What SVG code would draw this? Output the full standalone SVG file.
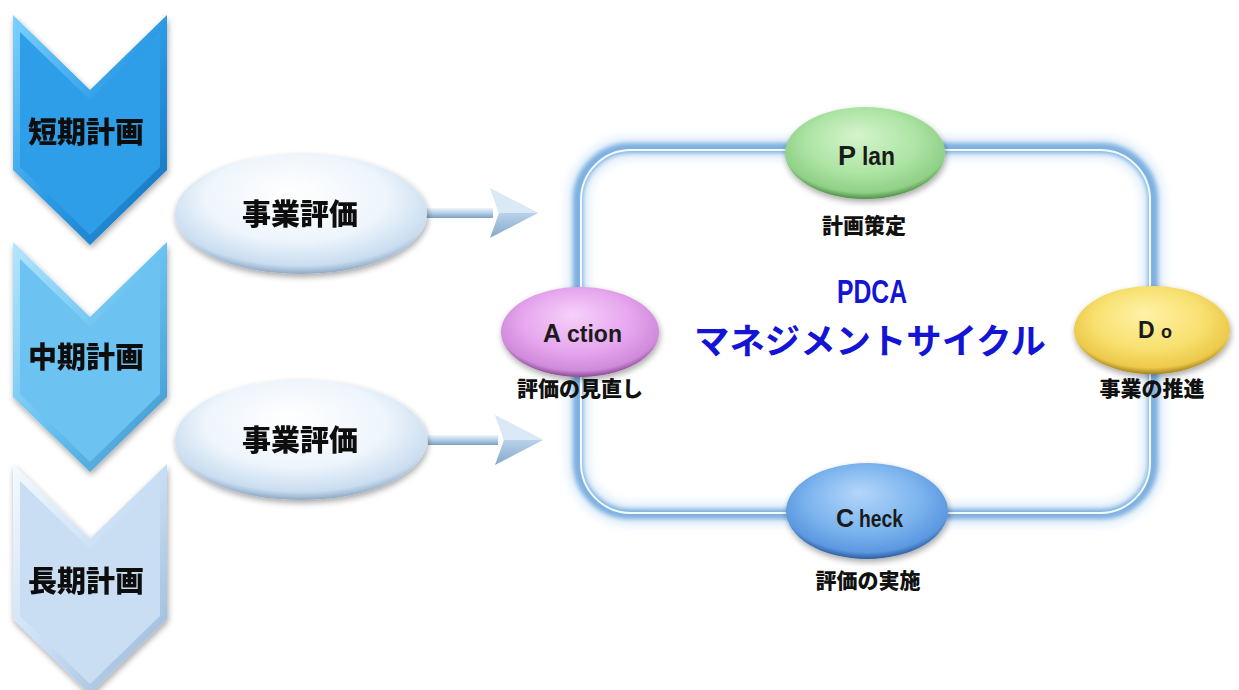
<svg xmlns="http://www.w3.org/2000/svg" width="1239" height="690" viewBox="0 0 1239 690">
<defs>
<style>
.jp{font-family:"Noto Sans CJK JP","Noto Sans CJK SC",sans-serif;font-weight:900;fill:#111;text-anchor:middle}
.big{font-size:29px}
.lbl{font-size:21px}
.cap{font-family:"Liberation Sans",Arial,sans-serif;font-weight:bold;fill:#1a1a1a}
.title{font-family:"Liberation Sans",Arial,"Noto Sans CJK JP",sans-serif;font-weight:bold;fill:#1414d4;text-anchor:middle}
</style>
<filter id="sh" x="-20%" y="-20%" width="140%" height="150%">
<feGaussianBlur in="SourceAlpha" stdDeviation="3"/>
<feOffset dx="1" dy="3" result="b"/>
<feComponentTransfer><feFuncA type="linear" slope="0.35"/></feComponentTransfer>
<feMerge><feMergeNode/><feMergeNode in="SourceGraphic"/></feMerge>
</filter>
<filter id="blur2" x="-10%" y="-10%" width="120%" height="120%"><feGaussianBlur stdDeviation="2"/></filter>
<filter id="blur6" x="-10%" y="-10%" width="120%" height="120%"><feGaussianBlur stdDeviation="6"/></filter>
<radialGradient id="gWhite" cx="50%" cy="40%" r="60%" fx="45%" fy="30%">
<stop offset="0" stop-color="#ffffff"/><stop offset="0.6" stop-color="#eef5fc"/><stop offset="0.9" stop-color="#c9ddf0"/><stop offset="1" stop-color="#8fa9c4"/>
</radialGradient>
<radialGradient id="gGreen" cx="50%" cy="42%" r="58%" fx="45%" fy="30%">
<stop offset="0" stop-color="#d4f4cc"/><stop offset="0.6" stop-color="#ade4a4"/><stop offset="0.9" stop-color="#8fd086"/><stop offset="1" stop-color="#4f8f48"/>
</radialGradient>
<radialGradient id="gPurple" cx="50%" cy="42%" r="58%" fx="45%" fy="30%">
<stop offset="0" stop-color="#f6d0fa"/><stop offset="0.6" stop-color="#e6a6ee"/><stop offset="0.9" stop-color="#d08ada"/><stop offset="1" stop-color="#8a4a94"/>
</radialGradient>
<radialGradient id="gYellow" cx="50%" cy="42%" r="58%" fx="45%" fy="30%">
<stop offset="0" stop-color="#fff2a8"/><stop offset="0.6" stop-color="#f8e070"/><stop offset="0.9" stop-color="#ecc94a"/><stop offset="1" stop-color="#a88420"/>
</radialGradient>
<radialGradient id="gBlue" cx="50%" cy="42%" r="58%" fx="45%" fy="30%">
<stop offset="0" stop-color="#b4d6fa"/><stop offset="0.6" stop-color="#7cb4ee"/><stop offset="0.9" stop-color="#5c98e0"/><stop offset="1" stop-color="#2c5c9c"/>
</radialGradient>
<linearGradient id="bev1" x1="0" y1="0" x2="1" y2="1">
<stop offset="0" stop-color="#7cd2ff"/><stop offset="0.5" stop-color="#2d9be6"/><stop offset="1" stop-color="#1570b8"/>
</linearGradient>
<linearGradient id="bev2" x1="0" y1="0" x2="1" y2="1">
<stop offset="0" stop-color="#b4e6ff"/><stop offset="0.5" stop-color="#6ac2f0"/><stop offset="1" stop-color="#3c94cc"/>
</linearGradient>
<linearGradient id="bev3" x1="0" y1="0" x2="1" y2="1">
<stop offset="0" stop-color="#f4faff"/><stop offset="0.5" stop-color="#c8def4"/><stop offset="1" stop-color="#94b4d4"/>
</linearGradient>
<linearGradient id="shaft" x1="0" y1="0" x2="0" y2="1">
<stop offset="0" stop-color="#eef5fc"/><stop offset="0.5" stop-color="#b4cfe8"/><stop offset="1" stop-color="#7c9fc0"/>
</linearGradient>
<linearGradient id="head" x1="0" y1="0" x2="0" y2="1">
<stop offset="0" stop-color="#e4effa"/><stop offset="0.5" stop-color="#b8d2ea"/><stop offset="1" stop-color="#86a8c8"/>
</linearGradient>
<g id="arrow">
<rect x="0" y="-5" width="70" height="10" fill="url(#shaft)"/>
<polygon points="67,-25 115,0 67,25 76,0" fill="url(#head)"/>
<polygon points="67,-25 115,0 76,0" fill="#dbe9f6"/>
</g>
</defs>
<rect width="1239" height="690" fill="#ffffff"/>

<g id="chevron-short" filter="url(#sh)">
<polygon points="13,15 90,90 167,15 167,170 90,245 13,170" fill="url(#bev1)"/>
<polygon points="20,32 90,100 160,32 160,167 90,235 20,167" fill="#2d9ee8"/>
<text class="jp big" x="86" y="143">短期計画</text>
</g>
<g id="chevron-mid" filter="url(#sh)">
<polygon points="13,242 90,317 167,242 167,397 90,472 13,397" fill="url(#bev2)"/>
<polygon points="20,259 90,327 160,259 160,394 90,462 20,394" fill="#6cc2f0"/>
<text class="jp big" x="86" y="368">中期計画</text>
</g>
<g id="chevron-long" filter="url(#sh)">
<polygon points="13,464 90,539 167,464 167,619 90,694 13,619" fill="url(#bev3)"/>
<polygon points="20,481 90,549 160,481 160,616 90,684 20,616" fill="#c9def3"/>
<text class="jp big" x="86" y="592">長期計画</text>
</g>

<g id="connectors">
<use href="#arrow" x="423" y="213"/>
<use href="#arrow" x="428" y="440"/>
<rect x="578" y="148" width="575" height="366" rx="52" fill="none" stroke="#d2e6f8" stroke-width="18" filter="url(#blur6)"/>
<rect x="578" y="148" width="575" height="366" rx="52" fill="none" stroke="#7eb0e0" stroke-width="10" filter="url(#blur2)"/>
<rect x="581" y="150" width="569" height="363" rx="50" fill="none" stroke="#f4fbff" stroke-width="2"/>
</g>

<g id="eval-1" filter="url(#sh)">
<ellipse cx="301" cy="214" rx="126" ry="60" fill="url(#gWhite)"/>
<text class="jp big" x="300" y="225">事業評価</text>
</g>
<g id="eval-2" filter="url(#sh)">
<ellipse cx="301" cy="440" rx="126" ry="60" fill="url(#gWhite)"/>
<text class="jp big" x="300" y="451">事業評価</text>
</g>

<g id="title">
<text class="title" x="872" y="303" font-size="33" textLength="70" lengthAdjust="spacingAndGlyphs">PDCA</text>
<text class="title" x="870" y="354" font-size="35" textLength="352" lengthAdjust="spacingAndGlyphs">マネジメントサイクル</text>
</g>

<g id="plan">
<ellipse cx="865" cy="153" rx="80" ry="46" fill="url(#gGreen)" filter="url(#sh)"/>
<text class="cap" x="838" y="165" font-size="27">P</text>
<text class="cap" x="862" y="165" font-size="25" textLength="33" lengthAdjust="spacingAndGlyphs">lan</text>
<text class="jp lbl" x="864" y="233">計画策定</text>
</g>
<g id="do">
<ellipse cx="1152" cy="330" rx="78" ry="44" fill="url(#gYellow)" filter="url(#sh)"/>
<text class="cap" x="1138" y="338" font-size="23">D</text>
<text class="cap" x="1161" y="338" font-size="18">o</text>
<text class="jp lbl" x="1152" y="396">事業の推進</text>
</g>
<g id="check">
<ellipse cx="867" cy="511" rx="81" ry="48" fill="url(#gBlue)" filter="url(#sh)"/>
<text class="cap" x="836" y="527" font-size="25">C</text>
<text class="cap" x="859" y="527" font-size="24" textLength="44" lengthAdjust="spacingAndGlyphs">heck</text>
<text class="jp lbl" x="868" y="588">評価の実施</text>
</g>
<g id="action">
<ellipse cx="580" cy="332" rx="79" ry="45" fill="url(#gPurple)" filter="url(#sh)"/>
<text class="cap" x="543" y="342" font-size="25">A</text>
<text class="cap" x="567" y="342" font-size="23" textLength="55" lengthAdjust="spacingAndGlyphs">ction</text>
<text class="jp lbl" x="580" y="396">評価の見直し</text>
</g>
</svg>
